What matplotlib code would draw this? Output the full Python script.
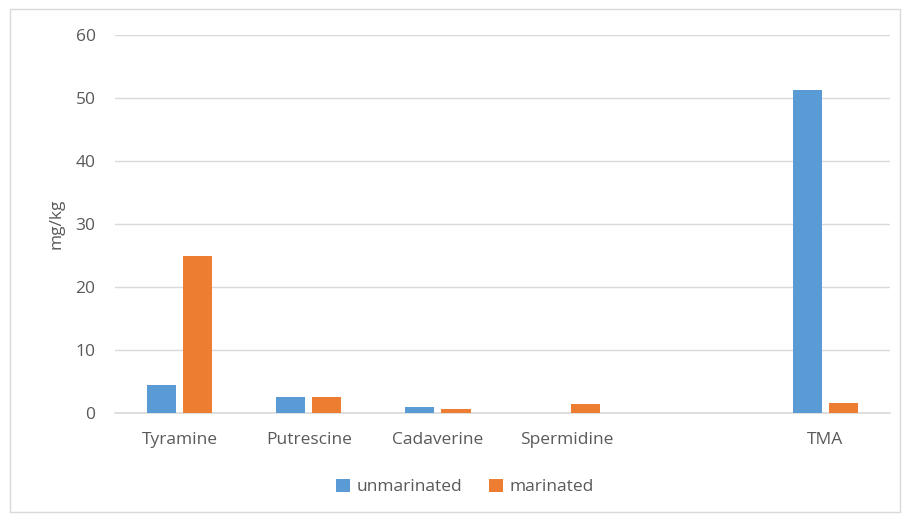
import matplotlib
matplotlib.use("Agg")
import matplotlib.pyplot as plt
from matplotlib.patches import Rectangle
import numpy as np

categories = ["Tyramine", "Putrescine", "Cadaverine", "Spermidine", "", "TMA"]
unmarinated = [4.5, 2.6, 1.0, 0.0, 0.0, 51.3]
marinated = [24.9, 2.5, 0.6, 1.5, 0.0, 1.6]
yticks = [0, 10, 20, 30, 40, 50, 60]

plt.rcParams['font.family'] = ['Open Sans', 'DejaVu Sans']
text_color = "#595959"
blue = "#5b9bd5"
orange = "#ed7d31"

fig = plt.figure(figsize=(9.03, 5.17), dpi=100)
fig.patches.append(Rectangle((10/903, 5/517), 890/903, 503/517, transform=fig.transFigure,
                             fill=False, edgecolor="#d9d9d9", linewidth=1))
ax = fig.add_axes([115/903, 1-413/517, 775/903, (413-35)/517])

x = np.arange(len(categories))
w = 0.225
ax.bar(x - 0.14, unmarinated, width=w, color=blue, label="unmarinated", zorder=3)
ax.bar(x + 0.14, marinated, width=w, color=orange, label="marinated", zorder=3)

ax.set_xlim(-0.5, len(categories) - 0.5)
ax.set_ylim(0, 60)
ax.set_yticks(yticks)
ax.set_yticklabels([str(v) for v in yticks], fontsize=12.5, color=text_color)
ax.set_xticks(x)
ax.set_xticklabels(categories, fontsize=12.5, color=text_color)
ax.tick_params(axis='both', length=0)
ax.tick_params(axis='y', pad=14)
ax.tick_params(axis='x', pad=14)
ax.grid(axis='y', color="#d9d9d9", linewidth=1, zorder=0)
for s in ["top", "right", "left"]:
    ax.spines[s].set_visible(False)
ax.spines["bottom"].set_color("#d9d9d9")
ax.spines["bottom"].set_linewidth(1.2)
ax.set_ylabel("mg/kg", fontsize=12.5, color=text_color, labelpad=8)

fig.legend(loc="center", bbox_to_anchor=(465/903, 1-487/517), ncol=2, frameon=False,
           fontsize=12.5, labelcolor=text_color, handlelength=0.8, handleheight=0.8,
           handletextpad=0.4, columnspacing=1.5)

fig.savefig("out.png", dpi=100)
